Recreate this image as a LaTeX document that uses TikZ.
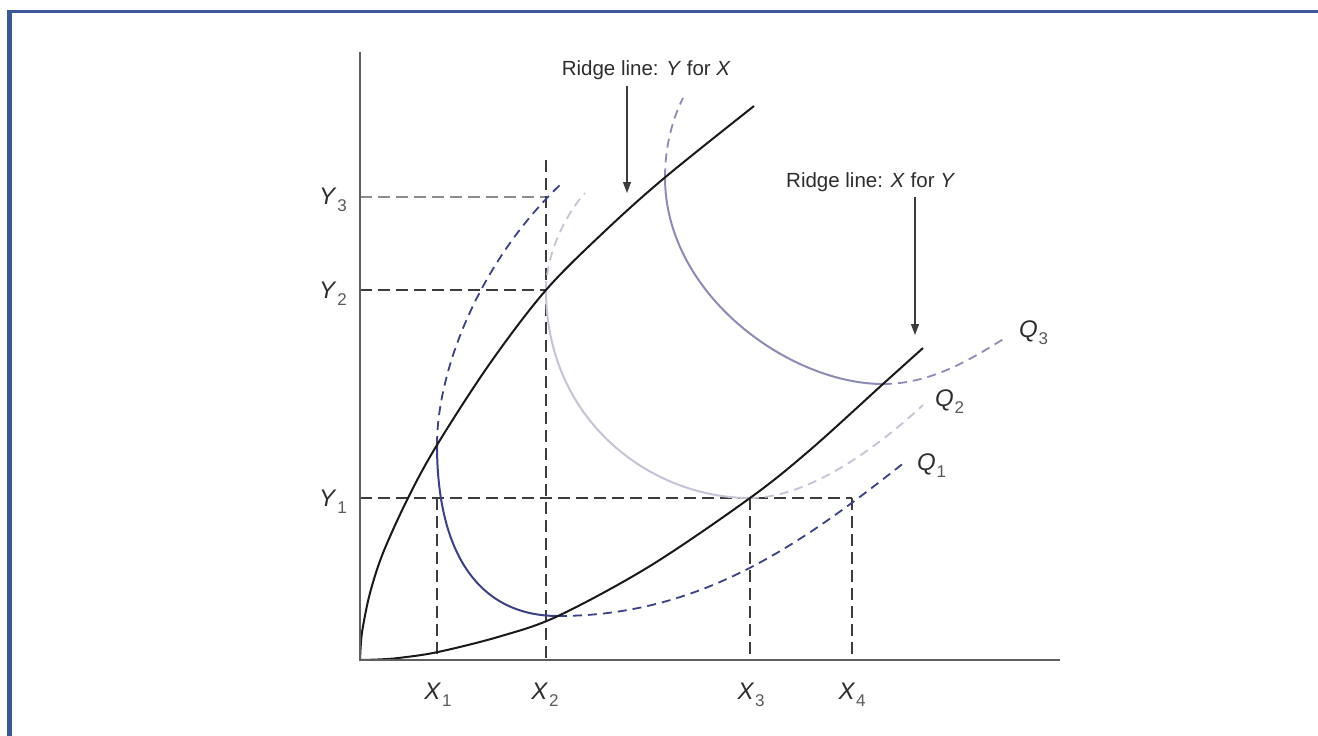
\documentclass[tikz,border=0pt]{standalone}
\usepackage{fontspec}
\setmainfont{Liberation Sans}
\usetikzlibrary{arrows.meta}
\definecolor{framecol}{RGB}{60,88,150}
\definecolor{axiscol}{RGB}{95,95,95}
\definecolor{qone}{RGB}{58,66,132}
\definecolor{qtwo}{RGB}{196,196,214}
\definecolor{qthree}{RGB}{140,140,182}
\definecolor{guidecol}{RGB}{60,60,60}
\definecolor{lightguide}{RGB}{140,140,140}
\definecolor{txtcol}{RGB}{45,45,45}
\definecolor{subcol}{RGB}{90,90,90}
\newcommand{\varlab}[2]{\textit{#1}\kern0.8pt\raisebox{-7pt}{\fontsize{17}{17}\selectfont\color{subcol}#2}}
\begin{document}
\begin{tikzpicture}[x=1pt,y=-1pt,
  axisline/.style={draw=axiscol,line width=2pt},
  ridge/.style={draw=black!90,line width=2pt},
  guide/.style={draw=guidecol,line width=1.8pt,dash pattern=on 12pt off 6pt},
  thinguide/.style={draw=guidecol,line width=1.1pt,dash pattern=on 12pt off 6pt},
  lightguideline/.style={draw=lightguide,line width=1.6pt,dash pattern=on 12pt off 6pt},
  qsolid/.style={line width=2pt},
  qdash/.style={line width=1.8pt,dash pattern=on 9pt off 6pt},
  lab/.style={font=\fontsize{24}{28}\selectfont, text=txtcol, inner sep=0pt},
  ridgelab/.style={font=\fontsize{20.5}{24}\selectfont, text=txtcol, inner sep=0pt},
  pointer/.style={draw=guidecol,line width=1.2pt,-{Triangle[length=11pt,width=8pt]}}
]
\useasboundingbox (0,0) rectangle (1318,736);
\fill[white] (0,0) rectangle (1318,736);
% frame
\draw[framecol,line width=3pt] (7.5,11) -- (1318,11);
\draw[framecol,line width=4.5pt] (9.5,9.5) -- (9.5,736);

% key points
\coordinate (O) at (360,660);
\coordinate (ytop) at (360,52);
\coordinate (xend) at (1060,660);
\coordinate (A1) at (437,445);
\coordinate (A2) at (546,290);
\coordinate (A3) at (665,177.4);
\coordinate (B1) at (558,616);
\coordinate (B2) at (750,498);
\coordinate (B3) at (883,384);
\coordinate (y1) at (360,498);
\coordinate (y2) at (360,290);
\coordinate (y3) at (360,196.7);
\coordinate (q1x2) at (546,196.7);
\coordinate (x2top) at (546,160);
\coordinate (x1) at (437,660);
\coordinate (x1y1) at (437,498);
\coordinate (x2) at (546,660);
\coordinate (x3) at (750,660);
\coordinate (x4) at (852,660);
\coordinate (x4y1) at (852,498);

% guides
\draw[lightguideline] (y3) -- (q1x2);
\draw[guide] (y2) -- (A2);
\draw[guide] (x2top) -- (x2);
\draw[guide] (y1) -- (x4y1);
\draw[guide] (x4y1) -- (x4);
\draw[thinguide] (x1y1) -- (x1);
\draw[thinguide] (B2) -- (x3);

% Q2
\draw[qtwo,qdash] (A2) .. controls (546,255) and (565,215) .. (585,193);
\draw[qtwo,qsolid] (A2) .. controls (546,420) and (650,498) .. (B2);
\draw[qtwo,qdash] (B2) .. controls (810,498) and (880,445) .. (923,405);
% Q3
\draw[qthree,qdash] (A3) .. controls (665,145) and (673,118) .. (683,98);
\draw[qthree,qsolid] (A3) .. controls (665,295) and (790,384) .. (B3);
\draw[qthree,qdash] (B3) .. controls (930,384) and (970,360) .. (1005,338);
% Q1
\draw[qone,qdash] (A1) .. controls (437,370) and (480,260) .. (563,182);
\draw[qone,qsolid] (A1) .. controls (437,555) and (480,616) .. (B1);
\draw[qone,qdash] (B1) .. controls (700,616) and (800,545) .. (905,462);

% ridge lines
\draw[ridge] plot[smooth,tension=0.55] coordinates {(360,660) (361,642) (363,626.3) (370,593) (383,553) (408,498) (437,445) (490,363.3) (546,290) (605,231) (665,177.4) (754,106)};
\draw[ridge] plot[smooth,tension=0.55] coordinates {(360,660) (380,659.4) (400,657.8) (438,652) (500,636.4) (558,616) (650,566) (750,498) (810,450) (883,384) (923,348)};

% axes
\draw[axisline] (ytop) -- (O) -- (xend);

% labels
\node[lab,anchor=base east] (ly3) at (347,204.7) {\varlab{Y}{3}};
\node[lab,anchor=base east] (ly2) at (347,298) {\varlab{Y}{2}};
\node[lab,anchor=base east] (ly1) at (347,506) {\varlab{Y}{1}};
\node[lab,anchor=base] (lx1) at (438,699) {\varlab{X}{1}};
\node[lab,anchor=base] (lx2) at (545,699) {\varlab{X}{2}};
\node[lab,anchor=base] (lx3) at (751,699) {\varlab{X}{3}};
\node[lab,anchor=base] (lx4) at (852,699) {\varlab{X}{4}};
\node[lab,anchor=base west] (lq3) at (1019,337) {\varlab{Q}{3}};
\node[lab,anchor=base west] (lq2) at (935,406) {\varlab{Q}{2}};
\node[lab,anchor=base west] (lq1) at (917,470) {\varlab{Q}{1}};

\node[ridgelab,anchor=base east] (rlyx) at (731,75) {Ridge line: \textit{Y} for \textit{X}};
\node[ridgelab,anchor=base west] (rlxy) at (786,187) {Ridge line: \textit{X} for \textit{Y}};
\coordinate (tipyx) at (627,193);
\coordinate (tipxy) at (915,335);
\draw[pointer] ([yshift=-6.5pt]rlyx.south -| tipyx) -- (tipyx);
\draw[pointer] ([yshift=-6pt]rlxy.south -| tipxy) -- (tipxy);
\end{tikzpicture}
\end{document}
